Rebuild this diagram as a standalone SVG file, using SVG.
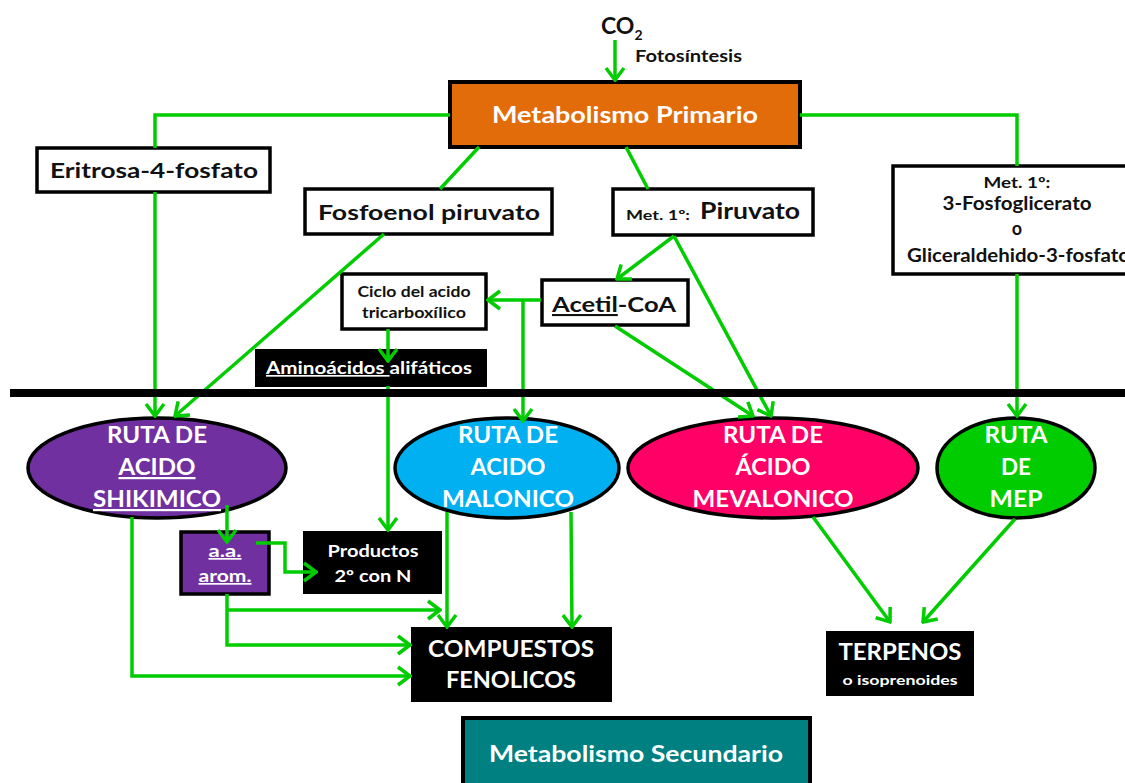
<svg xmlns="http://www.w3.org/2000/svg" width="1125" height="783" viewBox="0 0 1125 783">
  <style>
    text { font-family: Lato, "Open Sans", "Liberation Sans", sans-serif; font-weight: bold; }
    .dk { fill: #111; }
    .wt { fill: #fff; }
    .mid { text-anchor: middle; }
    .box { fill: #fff; stroke: #000; stroke-width: 3.5; }
    .blk { fill: #000; stroke: #000; stroke-width: 2; }
    .ell { stroke: #000; stroke-width: 3.5; }
    .ln { fill: none; stroke: #00CC00; stroke-width: 3.5; stroke-linejoin: miter; }
    .ar { marker-end: url(#head); }
    .ul { text-decoration: underline; }
  </style>
  <defs>
    <marker id="head" markerUnits="userSpaceOnUse" viewBox="0 0 16 22" refX="14" refY="11" markerWidth="16" markerHeight="22" orient="auto">
      <path d="M2,2 L14,11 L2,20" fill="none" stroke="#00CC00" stroke-width="3.5"/>
    </marker>
  </defs>

  <!-- source -->
  <g id="co2">
    <text x="601" y="34" class="dk" font-size="23">CO<tspan font-size="14" dy="6">2</tspan></text>
    <text x="635" y="62" class="dk" font-size="17" textLength="107" lengthAdjust="spacingAndGlyphs">Fotosíntesis</text>
  </g>

  <g id="primario">
    <rect x="450" y="82" width="350" height="65" fill="#E36C0A" stroke="#000" stroke-width="4"/>
    <text x="625" y="123" class="wt mid" font-size="23" textLength="266" lengthAdjust="spacingAndGlyphs">Metabolismo Primario</text>
  </g>

  <g id="eritrosa">
    <rect x="37" y="148" width="233" height="44" class="box"/>
    <text x="154" y="178" class="dk mid" font-size="20" textLength="208" lengthAdjust="spacingAndGlyphs">Eritrosa-4-fosfato</text>
  </g>

  <g id="fosfoenol">
    <rect x="305" y="189" width="247" height="45" class="box"/>
    <text x="429" y="220" class="dk mid" font-size="20" textLength="222" lengthAdjust="spacingAndGlyphs">Fosfoenol piruvato</text>
  </g>

  <g id="piruvato">
    <rect x="613" y="189" width="200" height="46" class="box"/>
    <text x="626" y="220" class="dk" font-size="14" textLength="64" lengthAdjust="spacingAndGlyphs">Met. 1º:</text>
    <text x="700" y="219" class="dk" font-size="22" textLength="100" lengthAdjust="spacingAndGlyphs">Piruvato</text>
  </g>

  <g id="acetil">
    <rect x="542" y="280" width="146" height="45" class="box"/>
    <text x="552" y="312" class="dk" font-size="21" textLength="124" lengthAdjust="spacingAndGlyphs"><tspan class="ul">Acetil</tspan>-CoA</text>
  </g>

  <g id="ciclo">
    <rect x="342" y="274" width="144" height="55" class="box"/>
    <text x="414" y="297" class="dk mid" font-size="14.5" textLength="113" lengthAdjust="spacingAndGlyphs">Ciclo del acido</text>
    <text x="414" y="318" class="dk mid" font-size="14.5" textLength="104" lengthAdjust="spacingAndGlyphs">tricarboxílico</text>
  </g>

  <g id="alifaticos">
    <rect x="256" y="350" width="230" height="36" class="blk"/>
    <text x="266" y="374" class="wt" font-size="16.5" textLength="206" lengthAdjust="spacingAndGlyphs"><tspan class="ul">Aminoácidos </tspan>alifáticos</text>
  </g>

  <g id="met1-gli">
    <rect x="893" y="166" width="250" height="108" class="box"/>
    <text x="1017" y="188" class="dk mid" font-size="15" textLength="67" lengthAdjust="spacingAndGlyphs">Met. 1º:</text>
    <text x="1017" y="210" class="dk mid" font-size="18" textLength="149" lengthAdjust="spacingAndGlyphs">3-Fosfoglicerato</text>
    <text x="1017" y="235" class="dk mid" font-size="18">o</text>
    <text x="907" y="262" class="dk" font-size="18" textLength="223" lengthAdjust="spacingAndGlyphs">Gliceraldehido-3-fosfato</text>
  </g>

  <!-- pathway ellipses -->
  <g id="shikimico">
    <ellipse cx="157" cy="468" rx="129" ry="50" fill="#7030A0" class="ell"/>
    <text x="157" y="443" class="wt mid" font-size="22" textLength="100" lengthAdjust="spacingAndGlyphs">RUTA DE</text>
    <text x="157" y="475" class="wt mid ul" font-size="22" textLength="77" lengthAdjust="spacingAndGlyphs">ACIDO</text>
    <text x="157" y="507" class="wt mid ul" font-size="22" textLength="128" lengthAdjust="spacingAndGlyphs">SHIKIMICO</text>
  </g>

  <g id="malonico">
    <ellipse cx="507" cy="468" rx="112" ry="50" fill="#00B0F0" class="ell"/>
    <text x="508" y="443" class="wt mid" font-size="22" textLength="100" lengthAdjust="spacingAndGlyphs">RUTA DE</text>
    <text x="508" y="475" class="wt mid" font-size="22" textLength="75" lengthAdjust="spacingAndGlyphs">ACIDO</text>
    <text x="508" y="507" class="wt mid" font-size="22" textLength="132" lengthAdjust="spacingAndGlyphs">MALONICO</text>
  </g>

  <g id="mevalonico">
    <ellipse cx="773" cy="468" rx="145" ry="50" fill="#FF0066" class="ell"/>
    <text x="773" y="443" class="wt mid" font-size="22" textLength="100" lengthAdjust="spacingAndGlyphs">RUTA DE</text>
    <text x="773" y="475" class="wt mid" font-size="22" textLength="75" lengthAdjust="spacingAndGlyphs">ÁCIDO</text>
    <text x="773" y="507" class="wt mid" font-size="22" textLength="161" lengthAdjust="spacingAndGlyphs">MEVALONICO</text>
  </g>

  <g id="mep">
    <ellipse cx="1016" cy="468" rx="79" ry="50" fill="#00CC00" class="ell"/>
    <text x="1016" y="443" class="wt mid" font-size="22" textLength="63" lengthAdjust="spacingAndGlyphs">RUTA</text>
    <text x="1016" y="475" class="wt mid" font-size="22" textLength="30" lengthAdjust="spacingAndGlyphs">DE</text>
    <text x="1016" y="507" class="wt mid" font-size="22" textLength="53" lengthAdjust="spacingAndGlyphs">MEP</text>
  </g>

  <!-- products -->
  <g id="aromaticos">
    <rect x="181" y="532" width="88" height="62" fill="#7030A0" stroke="#000" stroke-width="3.5"/>
    <text x="225" y="557" class="wt mid ul" font-size="17" textLength="33" lengthAdjust="spacingAndGlyphs">a.a.</text>
    <text x="225" y="582" class="wt mid ul" font-size="17" textLength="53" lengthAdjust="spacingAndGlyphs">arom.</text>
  </g>

  <g id="productos-n">
    <rect x="304" y="532" width="137" height="61" class="blk"/>
    <text x="373" y="557" class="wt mid" font-size="17" textLength="91" lengthAdjust="spacingAndGlyphs">Productos</text>
    <text x="373" y="582" class="wt mid" font-size="17" textLength="77" lengthAdjust="spacingAndGlyphs">2º con N</text>
  </g>

  <g id="fenolicos">
    <rect x="412" y="628" width="199" height="73" class="blk"/>
    <text x="511" y="657" class="wt mid" font-size="22" textLength="166" lengthAdjust="spacingAndGlyphs">COMPUESTOS</text>
    <text x="511" y="688" class="wt mid" font-size="22" textLength="130" lengthAdjust="spacingAndGlyphs">FENOLICOS</text>
  </g>

  <g id="terpenos">
    <rect x="827" y="632" width="146" height="63" class="blk"/>
    <text x="900" y="660" class="wt mid" font-size="22" textLength="123" lengthAdjust="spacingAndGlyphs">TERPENOS</text>
    <text x="900" y="685" class="wt mid" font-size="14" textLength="115" lengthAdjust="spacingAndGlyphs">o isoprenoides</text>
  </g>

  <g id="secundario">
    <rect x="463" y="718" width="347" height="80" fill="#008080" stroke="#000" stroke-width="4"/>
    <text x="636" y="762" class="wt mid" font-size="23" textLength="294" lengthAdjust="spacingAndGlyphs">Metabolismo Secundario</text>
  </g>

  <!-- connectors -->
  <g id="connectors">
    <path class="ln ar" d="M615,40 V80"/>
    <path class="ln" d="M450,115 H155 V148"/>
    <path class="ln ar" d="M155,192 V416"/>
    <path class="ln" d="M479,147 L440,189"/>
    <path class="ln ar" d="M384,234 L175,416"/>
    <path class="ln" d="M626,147 L648,189"/>
    <path class="ln ar" d="M674,236 L617,279"/>
    <path class="ln ar" d="M674,236 L771,416"/>
    <path class="ln ar" d="M541,300 H488"/>
    <path class="ln ar" d="M523,300 V421"/>
    <path class="ln ar" d="M615,326 L753,416"/>
    <path class="ln ar" d="M388,329 V361"/>
    <path class="ln ar" d="M388,386 V530"/>
    <path class="ln" d="M800,115 H1017 V166"/>
    <path class="ln ar" d="M1017,274 V416"/>
    <path class="ln ar" d="M227,505 V542"/>
    <path class="ln ar" d="M256,543 H285 V572 H316"/>
    <path class="ln ar" d="M227,594 V645 H410"/>
    <path class="ln ar" d="M227,610 H440"/>
    <path class="ln ar" d="M132,517 V676 H410"/>
    <path class="ln ar" d="M447,512 V627"/>
    <path class="ln ar" d="M571,512 L572,627"/>
    <path class="ln ar" d="M813,517 L890,622"/>
    <path class="ln ar" d="M1015,519 L923,622"/>
  </g>

  <!-- divider between primary and secondary metabolism -->
  <rect id="divider" x="10" y="389" width="1115" height="8" fill="#000"/>
</svg>
